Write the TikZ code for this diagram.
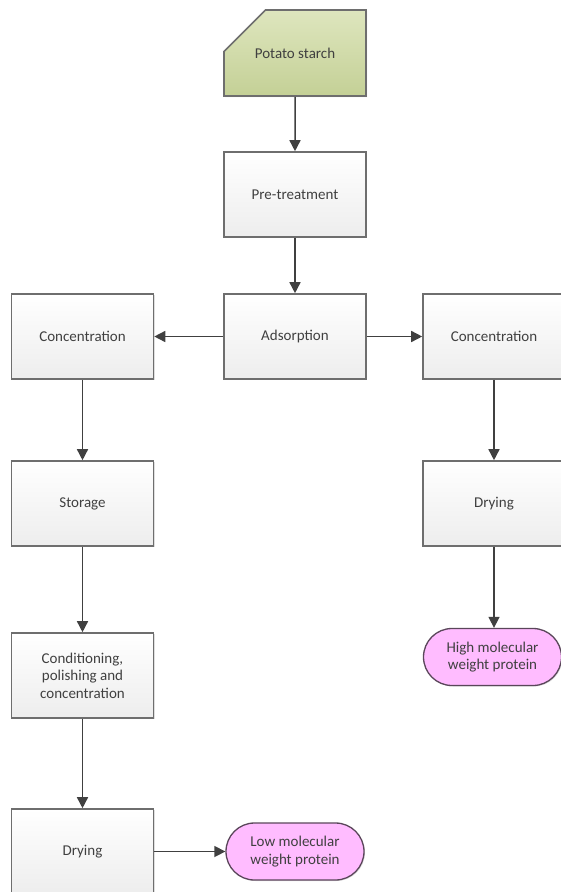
\documentclass[tikz,border=0pt]{standalone}
\usepackage{fontspec}
\setmainfont{Carlito}
\usetikzlibrary{arrows.meta,shapes.misc,shadows}
\definecolor{boxline}{RGB}{110,110,110}
\definecolor{arrowgray}{RGB}{64,64,64}
\definecolor{starchtop}{RGB}{222,230,190}
\definecolor{starchbot}{RGB}{196,208,150}
\definecolor{pinkfill}{RGB}{255,188,255}
\definecolor{pinkline}{RGB}{90,70,90}
\begin{document}
\begin{tikzpicture}[x=1pt,y=-1pt,
  every node/.style={font=\fontsize{15}{17.5}\selectfont,text=black!75,align=center},
  process/.style={draw=boxline,line width=1.6pt,minimum width=142pt,minimum height=85pt,
    top color=white,bottom color=black!7,drop shadow={shadow xshift=1pt,shadow yshift=-1pt,opacity=0.25}},
  startbox/.style={draw=boxline,line width=1.6pt,chamfered rectangle,chamfered rectangle corners=north west,
    chamfered rectangle xsep=34pt,chamfered rectangle ysep=33pt,minimum width=142pt,minimum height=86pt,
    top color=starchtop,bottom color=starchbot,drop shadow={shadow xshift=1pt,shadow yshift=-1pt,opacity=0.25}},
  product/.style={draw=pinkline,line width=1.3pt,rounded rectangle,minimum width=142pt,minimum height=57pt,
    fill=pinkfill,inner sep=2pt,drop shadow={shadow xshift=1pt,shadow yshift=-1pt,opacity=0.25}},
  flow/.style={draw=arrowgray,line width=1.5pt,-{Triangle[length=11pt,width=11pt]}}]
  \useasboundingbox (0,0) rectangle (561,892);
  % main line
  \node[startbox] (starch) at (295,53) {Potato starch};
  \node[process] (pretreat) at (295,194.5) {Pre-treatment};
  \node[process] (adsorb) at (295,336.5) {Adsorption};
  % left branch
  \node[process] (concleft) at (82.5,336.5) {Concentration};
  \node[process] (storage) at (82.5,503.5) {Storage};
  \node[process] (condition) at (82.5,675.5) {Conditioning,\\polishing and\\concentration};
  \node[process] (dryleft) at (82.5,851.5) {Drying};
  \node[product] (lowmw) at (295,851.5) {Low molecular\\weight protein};
  % right branch
  \node[process] (concright) at (494,336.5) {Concentration};
  \node[process] (dryright) at (494,503.5) {Drying};
  \node[product] (highmw) at (492.5,657) {High molecular\\weight protein};
  % arrows
  \draw[flow] (starch) -- (pretreat);
  \draw[flow] (pretreat) -- (adsorb);
  \draw[flow] (adsorb) -- (concleft);
  \draw[flow] (adsorb) -- (concright);
  \draw[flow] (concleft) -- (storage);
  \draw[flow] (storage) -- (condition);
  \draw[flow] (condition) -- (dryleft);
  \draw[flow] (dryleft) -- (lowmw);
  \draw[flow] (concright) -- (dryright);
  \draw[flow] (dryright.south) -- (highmw.north -| dryright.south);
\end{tikzpicture}
\end{document}
